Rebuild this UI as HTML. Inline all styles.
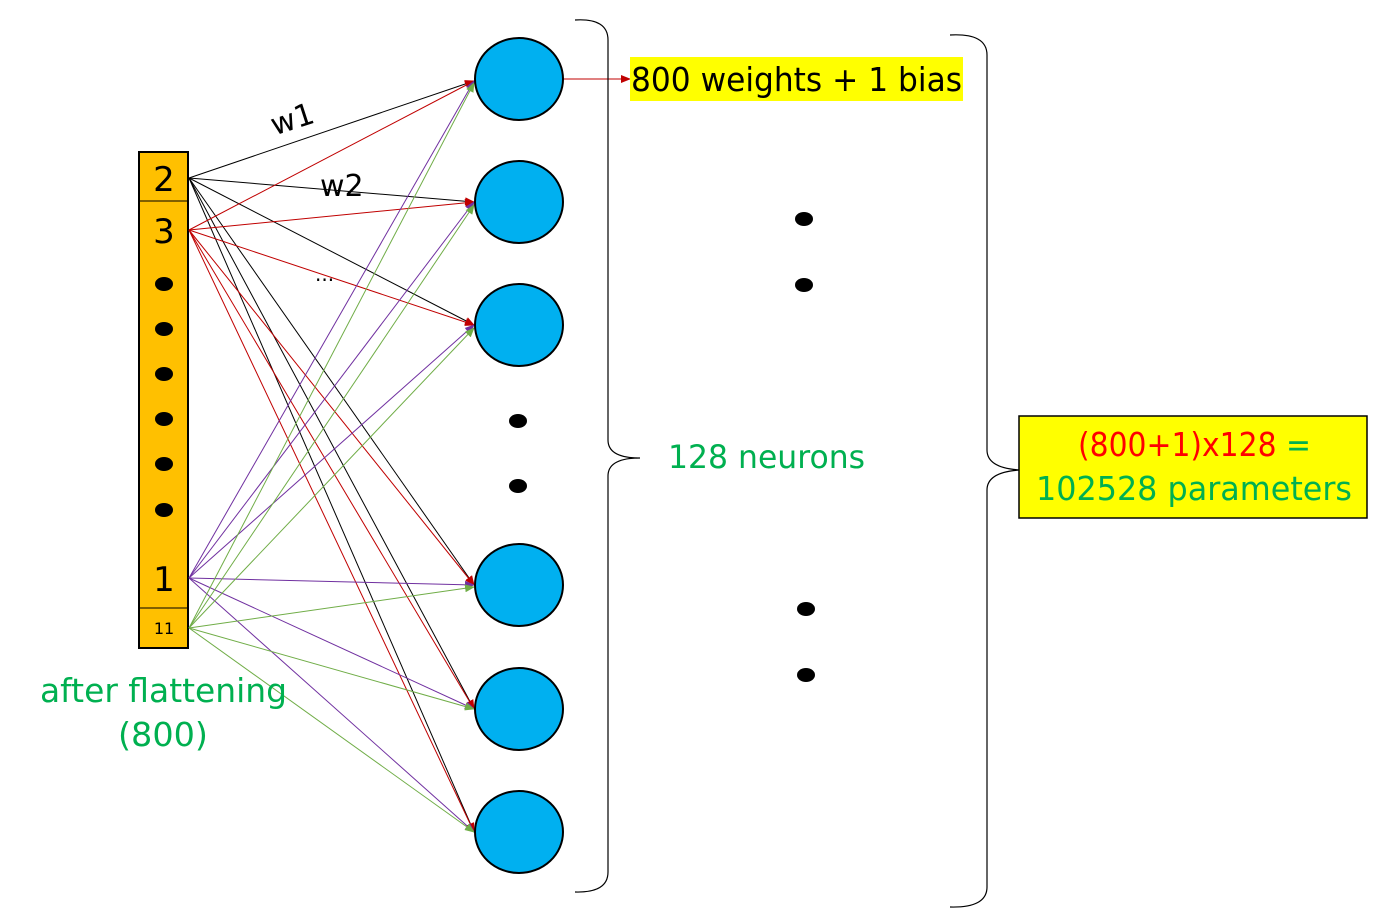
<!DOCTYPE html>
<html><head><style>
body{margin:0;background:#fff;}
svg{display:block;font-family:"DejaVu Sans","Liberation Sans",sans-serif;}
</style></head><body>
<svg width="1375" height="922" viewBox="0 0 1375 922" xmlns="http://www.w3.org/2000/svg">
<defs>
<marker id="ar" markerWidth="10" markerHeight="8" refX="9" refY="4" orient="auto" markerUnits="userSpaceOnUse"><path d="M0,0 L10,4 L0,8z" fill="#c00000"/></marker>
<marker id="ap" markerWidth="10" markerHeight="8" refX="9" refY="4" orient="auto" markerUnits="userSpaceOnUse"><path d="M0,0 L10,4 L0,8z" fill="#7030a0"/></marker>
<marker id="ag" markerWidth="10" markerHeight="8" refX="9" refY="4" orient="auto" markerUnits="userSpaceOnUse"><path d="M0,0 L10,4 L0,8z" fill="#70ad47"/></marker>
</defs>
<rect x="139" y="152" width="49" height="496" fill="#ffc000" stroke="#000" stroke-width="2"/>
<line x1="139" y1="201" x2="188" y2="201" stroke="#000"/>
<line x1="139" y1="608" x2="188" y2="608" stroke="#000"/>
<text x="164" y="191" font-size="34" text-anchor="middle">2</text>
<text x="164" y="243" font-size="34" text-anchor="middle">3</text>
<text x="164" y="591" font-size="34" text-anchor="middle">1</text>
<text x="164" y="634" font-size="16" text-anchor="middle">11</text>
<g fill="#000">
<ellipse cx="164" cy="284" rx="9" ry="7"/><ellipse cx="164" cy="329" rx="9" ry="7"/><ellipse cx="164" cy="374" rx="9" ry="7"/><ellipse cx="164" cy="419" rx="9" ry="7"/><ellipse cx="164" cy="464" rx="9" ry="7"/><ellipse cx="164" cy="510" rx="9" ry="7"/>
<ellipse cx="518" cy="421" rx="9" ry="7"/><ellipse cx="518" cy="486" rx="9" ry="7"/>
<ellipse cx="804" cy="219" rx="9" ry="7"/><ellipse cx="804" cy="285" rx="9" ry="7"/>
<ellipse cx="806" cy="609" rx="9" ry="7"/><ellipse cx="806" cy="675" rx="9" ry="7"/>
</g>
<g stroke-width="1">
<g stroke="#000" marker-end="url(#ar)">
<line x1="189" y1="178" x2="474" y2="81"/><line x1="189" y1="178" x2="474" y2="202"/><line x1="189" y1="178" x2="474" y2="325"/><line x1="189" y1="178" x2="474" y2="585"/><line x1="189" y1="178" x2="474" y2="709"/><line x1="189" y1="178" x2="474" y2="832"/>
</g>
<g stroke="#c00000" marker-end="url(#ar)">
<line x1="189" y1="230" x2="474" y2="81"/><line x1="189" y1="230" x2="474" y2="202"/><line x1="189" y1="230" x2="474" y2="325"/><line x1="189" y1="230" x2="474" y2="585"/><line x1="189" y1="230" x2="474" y2="709"/><line x1="189" y1="230" x2="474" y2="832"/>
</g>
<g stroke="#7030a0" marker-end="url(#ap)">
<line x1="189" y1="578" x2="474" y2="81"/><line x1="189" y1="578" x2="474" y2="202"/><line x1="189" y1="578" x2="474" y2="325"/><line x1="189" y1="578" x2="474" y2="585"/><line x1="189" y1="578" x2="474" y2="709"/><line x1="189" y1="578" x2="474" y2="832"/>
</g>
<g stroke="#70ad47" marker-end="url(#ag)">
<line x1="189" y1="628" x2="474" y2="83"/><line x1="189" y1="628" x2="474" y2="205"/><line x1="189" y1="628" x2="474" y2="328"/><line x1="189" y1="628" x2="474" y2="587"/><line x1="189" y1="628" x2="474" y2="709"/><line x1="189" y1="628" x2="474" y2="832"/>
</g>
</g>
<g fill="#00b0f0" stroke="#000" stroke-width="2">
<ellipse cx="519" cy="79" rx="44" ry="41"/><ellipse cx="519" cy="202" rx="44" ry="41"/><ellipse cx="519" cy="325" rx="44" ry="41"/><ellipse cx="519" cy="585" rx="44" ry="41"/><ellipse cx="519" cy="709" rx="44" ry="41"/><ellipse cx="519" cy="832" rx="44" ry="41"/>
</g>
<text x="270" y="130" font-size="30" transform="rotate(-18 290 118)">w1</text>
<text x="320" y="196" font-size="30">w2</text>
<text x="315" y="281" font-size="20">...</text>
<line x1="564" y1="79" x2="630" y2="79" stroke="#c00000" marker-end="url(#ar)"/>
<rect x="630" y="57" width="333" height="44" fill="#ffff00"/>
<text x="631" y="91" font-size="33" textLength="331" lengthAdjust="spacingAndGlyphs">800 weights + 1 bias</text>
<path d="M575,20 Q608,18 608,40 L608,440 Q608,458 640,458 Q608,458 608,476 L608,872 Q608,893 575,892" fill="none" stroke="#000" stroke-width="1.2"/>
<path d="M950,35 Q987,33 987,55 L987,450 Q987,468 1020,470 Q987,472 987,490 L987,887 Q987,908 950,907" fill="none" stroke="#000" stroke-width="1.2"/>
<text x="668" y="468" font-size="32" fill="#00b050" textLength="197" lengthAdjust="spacingAndGlyphs">128 neurons</text>
<text x="40" y="702" font-size="33" fill="#00b050" textLength="247" lengthAdjust="spacingAndGlyphs">after flattening</text>
<text x="118" y="746" font-size="33" fill="#00b050" textLength="90" lengthAdjust="spacingAndGlyphs">(800)</text>
<rect x="1019" y="416" width="348" height="102" fill="#ffff00" stroke="#000" stroke-width="1.5"/>
<text x="1078" y="456" font-size="33" textLength="233" lengthAdjust="spacingAndGlyphs"><tspan fill="#ff0000">(800+1)x128</tspan><tspan fill="#00b050"> =</tspan></text>
<text x="1036" y="500" font-size="33" fill="#00b050" textLength="316" lengthAdjust="spacingAndGlyphs">102528 parameters</text>
</svg>
</body></html>
